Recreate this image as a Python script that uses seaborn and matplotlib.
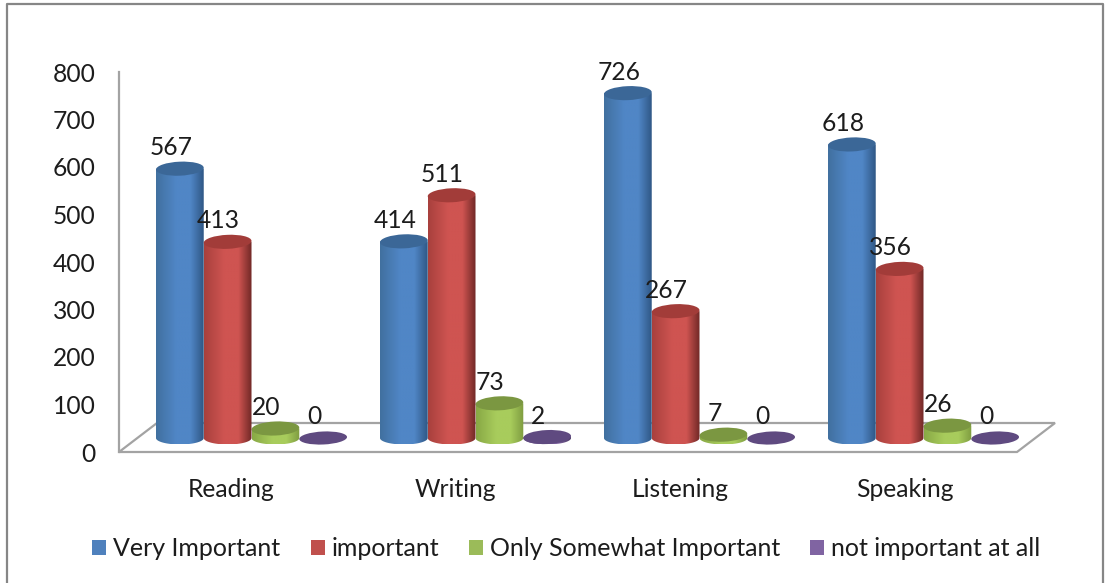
import numpy as np
import pandas as pd
import seaborn as sns
import matplotlib
matplotlib.use("Agg")
import matplotlib.pyplot as plt
from matplotlib.lines import Line2D
from matplotlib.patches import Ellipse, PathPatch, Patch
from matplotlib.path import Path
from matplotlib.transforms import IdentityTransform
from matplotlib.colors import LinearSegmentedColormap

skills = ["Reading", "Writing", "Listening", "Speaking"]
levels = ["Very Important", "important", "Only Somewhat Important", "not important at all"]
very_important = [567, 414, 726, 618]
important = [413, 511, 267, 356]
somewhat = [20, 73, 7, 26]
not_important = [0, 2, 0, 0]
y_ticks = [0, 100, 200, 300, 400, 500, 600, 700, 800]

legend_colors = ["#4f81bd", "#c0504d", "#9bbb59", "#8064a2"]
# left edge, lit centre, right edge, top cap
shades = [
    ("#41709f", "#5086c6", "#2f5785", "#3b6797"),
    ("#a8403d", "#cf5451", "#702826", "#a23c39"),
    ("#88a845", "#a8cc5c", "#7e9c40", "#7b9741"),
    ("#6a5189", "#8064a2", "#4f3d68", "#5f4a80"),
]
bar_z = [3, 4, 3, 2]

W, H = 1105, 583
sns.set_theme(style="white")
plt.rcParams["font.family"] = ["Lato", "DejaVu Sans"]
TEXT = "#1c1c1c"
AXIS = "#a3a3a3"
FS = 17.7

fig = plt.figure(figsize=(W / 100, H / 100), dpi=100, facecolor="white")


def box(left, top, right, bottom):
    return [left / W, 1 - bottom / H, (right - left) / W, (bottom - top) / H]


# Front plane: carries the value axis and the category labels
ax = fig.add_axes(box(119, 72, 1017, 452))
ax.set_xlim(-0.5, 3.5)
ax.set_ylim(0, 800)
ax.set_yticks(y_ticks)
ax.set_xticks(range(len(skills)))
ax.set_xticklabels(skills)
ax.tick_params(axis="y", length=0, pad=17, labelsize=FS, labelcolor=TEXT)
ax.tick_params(axis="x", length=0, pad=18.5, labelsize=FS, labelcolor=TEXT)
ax.patch.set_alpha(0)
for s in ["top", "right", "bottom"]:
    ax.spines[s].set_visible(False)
ax.spines["left"].set_color(AXIS)
ax.spines["left"].set_linewidth(1.6)

# Floor outline
dx, dy = 38 / 898, 29 / 380
floor_x = [0, 1, 1 + dx, dx, 0]
floor_y = [0, 0, dy, dy, 0]
ax.plot(floor_x, floor_y, transform=ax.transAxes, color=AXIS, lw=1.6, clip_on=False,
        solid_joinstyle="miter")

# Mid-depth plane: carries the cylinders; extra room below zero holds the rounded bases
RY_BASE, RY_TOP = 6.5, 7.0
unit = 380 / 800
below_zero = 12 / unit
bx = fig.add_axes(box(139.5, 58, 1035.5, 450), zorder=2)
bx.patch.set_alpha(0)
df = pd.DataFrame({
    "skill": skills * 4,
    "level": np.repeat(levels, 4),
    "count": very_important + important + somewhat + not_important,
})
sns.barplot(data=df, x="skill", y="count", hue="level", hue_order=levels,
            palette=legend_colors, width=0.853, gap=0, dodge=True, legend=False,
            errorbar=None, ax=bx)
bx.set_xlim(-0.5, 3.5)
bx.set_ylim(-below_zero, 800)
bx.axis("off")
fig.canvas.draw()

px = IdentityTransform()

for container, shade, z in zip(bx.containers, shades, bar_z):
    cmap = LinearSegmentedColormap.from_list(
        "cyl", [(0, shade[0]), (0.42, shade[1]), (0.72, shade[1]), (1, shade[2])])
    for patch, value in zip(container.patches, container.datavalues):
        patch.set_visible(False)
        x = patch.get_x()
        w = patch.get_width()
        (x0, y0), (x1, y1) = bx.transData.transform([(x, 0), (x + w, value)])
        cx = (x0 + x1) / 2
        rx = (x1 - x0) / 2
        if value > 0:
            theta = np.linspace(np.pi, 2 * np.pi, 40)
            verts = np.column_stack([cx + rx * np.cos(theta), y0 + RY_BASE * np.sin(theta)])
            verts = np.vstack([[x0, y1], verts, [x1, y1], [x0, y1]])
            codes = [Path.MOVETO] + [Path.LINETO] * (len(verts) - 2) + [Path.CLOSEPOLY]
            clip = PathPatch(Path(verts, codes), transform=px, facecolor="none", edgecolor="none")
            clip.set_clip_on(False)
            bx.add_patch(clip)
            img = bx.imshow(np.linspace(0, 1, 128)[None, :], cmap=cmap, aspect="auto",
                            extent=[x, x + w, -RY_BASE / unit, value], zorder=z,
                            interpolation="bilinear")
            img.set_clip_path(clip)
        cap = Ellipse((cx, y1), 2 * rx, 2 * RY_TOP if value > 0 else 2 * RY_BASE, angle=2.5,
                      transform=px, facecolor=shade[3], edgecolor="none", zorder=z + 0.1,
                      clip_on=False)
        bx.add_patch(cap)
        bx.annotate(f"{value:g}", xy=(x + w / 2, value), xytext=(-9, 21),
                    textcoords="offset pixels", ha="center", va="center",
                    fontsize=FS, color=TEXT, zorder=6, annotation_clip=False)
bx.set_xlim(-0.5, 3.5)
bx.set_ylim(-below_zero, 800)

handles = [Patch(facecolor=c, edgecolor="none") for c in legend_colors]
fig.legend(handles, levels, ncol=4, loc="center", bbox_to_anchor=(566.5 / W, 1 - 549 / H),
           frameon=False, fontsize=18, labelcolor=TEXT, handlelength=0.56, handleheight=0.56,
           handletextpad=0.28, columnspacing=1.2, borderpad=0, borderaxespad=0)

# Outer chart frame
frame_x = [7 / W, 7 / W, 1103 / W, 1103 / W]
frame_y = [0, 1 - 4 / H, 1 - 4 / H, 0]
fig.add_artist(Line2D(frame_x, frame_y, color="#868686", lw=1.6, transform=fig.transFigure))

fig.savefig("out.png", dpi=100)
